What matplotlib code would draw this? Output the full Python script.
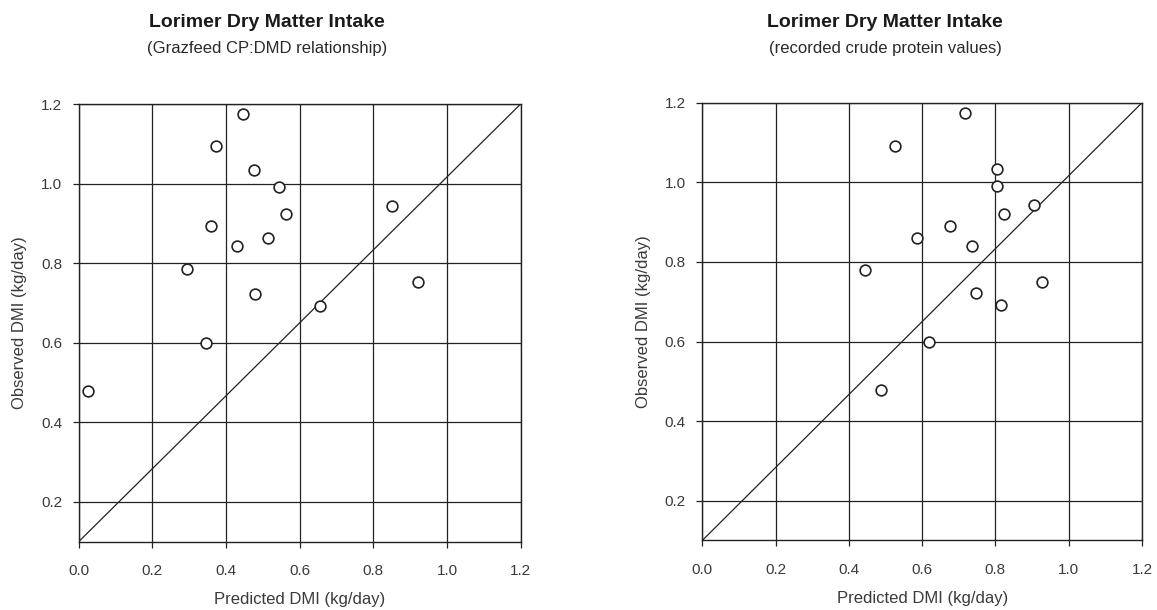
import matplotlib
matplotlib.use("Agg")
import matplotlib.pyplot as plt

plt.rcParams['font.family'] = ['Liberation Sans', 'DejaVu Sans']

# Panel titles
main_title = "Lorimer Dry Matter Intake"
subtitles = ["(Grazfeed CP:DMD relationship)", "(recorded crude protein values)"]

x_label = "Predicted DMI (kg/day)"
y_label = "Observed DMI (kg/day)"

x_ticks = [0.0, 0.2, 0.4, 0.6, 0.8, 1.0, 1.2]
y_ticks = [0.2, 0.4, 0.6, 0.8, 1.0, 1.2]

# Left panel: predicted DMI using Grazfeed CP:DMD relationship
pred_grazfeed = [0.445, 0.373, 0.477, 0.545, 0.563, 0.359, 0.431, 0.513,
                 0.295, 0.478, 0.346, 0.024, 0.850, 0.921, 0.654]
obs_grazfeed = [1.175, 1.094, 1.034, 0.992, 0.923, 0.893, 0.843, 0.864,
                0.785, 0.722, 0.600, 0.479, 0.944, 0.753, 0.693]

# Right panel: predicted DMI using recorded crude protein values
pred_recorded = [0.716, 0.526, 0.804, 0.804, 0.904, 0.824, 0.676, 0.587,
                 0.736, 0.445, 0.926, 0.746, 0.816, 0.618, 0.488]
obs_recorded = [1.174, 1.092, 1.033, 0.991, 0.942, 0.920, 0.890, 0.860,
                0.841, 0.780, 0.750, 0.721, 0.692, 0.600, 0.477]

# Reference line
diag_x = [0.0, 1.2]
diag_y = [0.1, 1.2]

ink = "#222222"
label_col = "#3a3a3a"

fig = plt.figure(figsize=(11.57, 6.10), dpi=100)
fig.patch.set_facecolor("white")

ax_rects = [
    [0.0680, 0.1120, 0.3820, 0.7175],
    [0.6070, 0.1140, 0.3800, 0.7175],
]
title_x = [0.231, 0.765]

panels = [(pred_grazfeed, obs_grazfeed), (pred_recorded, obs_recorded)]

for rect, (px, py), sub, tx in zip(ax_rects, panels, subtitles, title_x):
    ax = fig.add_axes(rect)
    ax.set_xlim(0.0, 1.2)
    ax.set_ylim(0.1, 1.2)
    ax.set_xticks(x_ticks)
    ax.set_yticks(y_ticks)
    ax.set_xticklabels([f"{v:.1f}" for v in x_ticks])
    ax.set_yticklabels([f"{v:.1f}" for v in y_ticks])
    ax.grid(True, color=ink, linewidth=0.9)
    ax.set_axisbelow(True)
    for side in ax.spines.values():
        side.set_color(ink)
        side.set_linewidth(1.0)
    ax.tick_params(axis="both", direction="out", length=4, width=0.9,
                   color=ink, labelsize=11, labelcolor=label_col)
    ax.tick_params(axis="x", pad=12)
    ax.tick_params(axis="y", pad=8)

    ax.plot(diag_x, diag_y, color=ink, linewidth=0.9, zorder=2)
    ax.scatter(px, py, s=60, facecolors="white", edgecolors=ink,
               linewidths=1.2, zorder=3, clip_on=False)

    ax.set_xlabel(x_label, fontsize=12, color=label_col, labelpad=10)
    ax.set_ylabel(y_label, fontsize=12, color=label_col, labelpad=10)

    fig.text(tx, 0.963, main_title, ha="center", va="center",
             fontsize=14, fontweight="bold", color="#1a1a1a")
    fig.text(tx, 0.920, sub, ha="center", va="center",
             fontsize=12, color="#2a2a2a")

fig.savefig("out.png", dpi=100, facecolor="white")
